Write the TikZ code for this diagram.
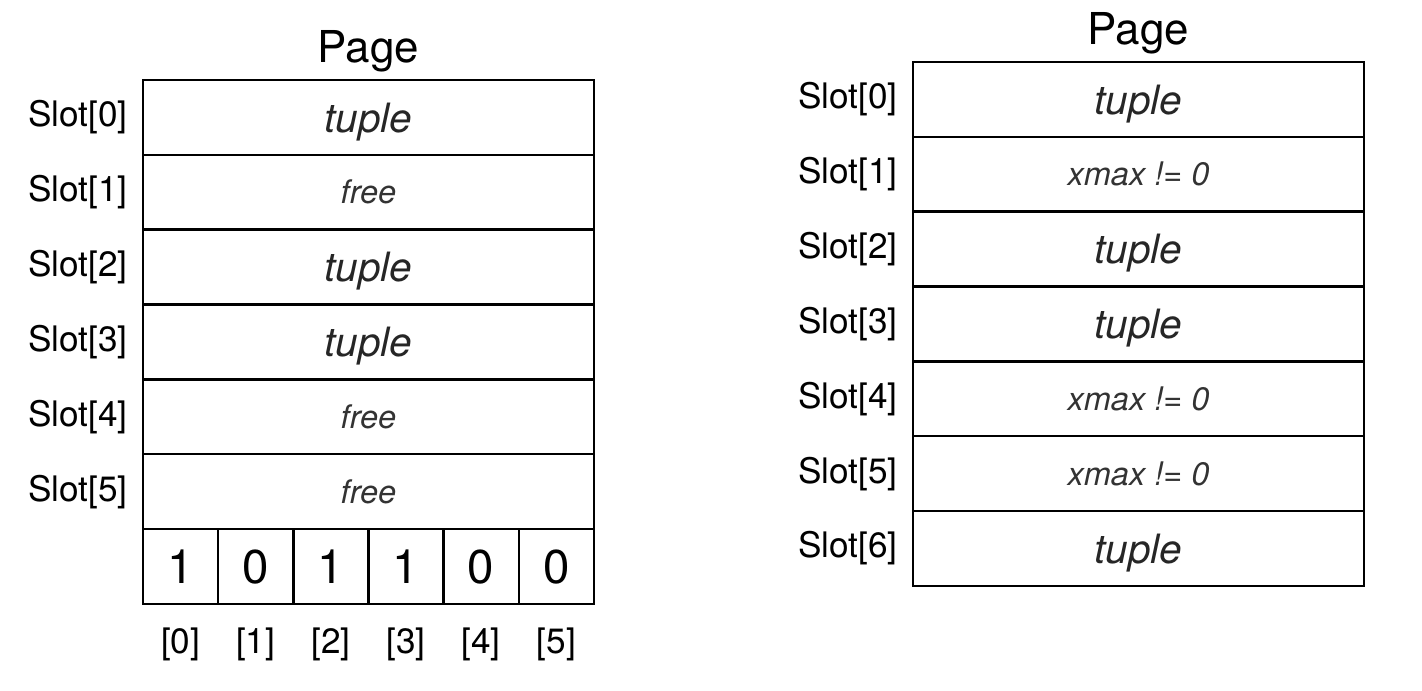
\documentclass[tikz,border=0pt]{standalone}
\usepackage{fontspec}
\setmainfont{TeX Gyre Heros}
\usetikzlibrary{positioning}

\tikzset{
  slot/.style={draw, line width=1.4pt, minimum width=9.02cm, minimum height=1.497cm, inner sep=0pt, outer sep=0pt},
  bit/.style={draw, line width=1.4pt, minimum width=1.503cm, minimum height=1.5cm, inner sep=0pt, outer sep=0pt, font=\fontsize{27}{30}\selectfont},
  lbl/.style={inner sep=0pt, font=\fontsize{20}{24}\selectfont},
  big/.style={font=\fontsize{23}{26}\selectfont\itshape, text=black!85, text depth=0pt},
  small/.style={font=\fontsize{18.5}{22}\selectfont\itshape, text=black!80},
  title/.style={inner sep=0pt, font=\fontsize{25}{28}\selectfont}
}

\begin{document}
\begin{tikzpicture}
      \useasboundingbox (0,0) rectangle (28.44,-13.8);

      % left page with bitmap
      \node [slot, big, anchor=north west] (l0) at (2.86,-1.6) {tuple};
      \node [slot, small, below=0pt of l0] (l1) {free};
      \node [slot, big, below=0pt of l1] (l2) {tuple};
      \node [slot, big, below=0pt of l2] (l3) {tuple};
      \node [slot, small, below=0pt of l3] (l4) {free};
      \node [slot, small, below=0pt of l4] (l5) {free};
      \node [title, above=0.16cm of l0] (lpage) {Page};

      \node [lbl, left=0.3cm of l0] (ls0) {Slot[0]};
      \node [lbl, left=0.3cm of l1] (ls1) {Slot[1]};
      \node [lbl, left=0.3cm of l2] (ls2) {Slot[2]};
      \node [lbl, left=0.3cm of l3] (ls3) {Slot[3]};
      \node [lbl, left=0.3cm of l4] (ls4) {Slot[4]};
      \node [lbl, left=0.3cm of l5] (ls5) {Slot[5]};

      \node [bit, anchor=north west] (b0) at (l5.south west) {1};
      \node [bit, right=0pt of b0] (b1) {0};
      \node [bit, right=0pt of b1] (b2) {1};
      \node [bit, right=0pt of b2] (b3) {1};
      \node [bit, right=0pt of b3] (b4) {0};
      \node [bit, right=0pt of b4] (b5) {0};

      \node [lbl, below=0.46cm of b0] (i0) {[0]};
      \node [lbl, below=0.46cm of b1] (i1) {[1]};
      \node [lbl, below=0.46cm of b2] (i2) {[2]};
      \node [lbl, below=0.46cm of b3] (i3) {[3]};
      \node [lbl, below=0.46cm of b4] (i4) {[4]};
      \node [lbl, below=0.46cm of b5] (i5) {[5]};

      % right page with xmax
      \node [slot, big, anchor=north west] (r0) at (18.26,-1.24) {tuple};
      \node [slot, small, below=0pt of r0] (r1) {xmax != 0};
      \node [slot, big, below=0pt of r1] (r2) {tuple};
      \node [slot, big, below=0pt of r2] (r3) {tuple};
      \node [slot, small, below=0pt of r3] (r4) {xmax != 0};
      \node [slot, small, below=0pt of r4] (r5) {xmax != 0};
      \node [slot, big, below=0pt of r5] (r6) {tuple};
      \node [title, above=0.16cm of r0] (rpage) {Page};

      \node [lbl, left=0.3cm of r0] (rs0) {Slot[0]};
      \node [lbl, left=0.3cm of r1] (rs1) {Slot[1]};
      \node [lbl, left=0.3cm of r2] (rs2) {Slot[2]};
      \node [lbl, left=0.3cm of r3] (rs3) {Slot[3]};
      \node [lbl, left=0.3cm of r4] (rs4) {Slot[4]};
      \node [lbl, left=0.3cm of r5] (rs5) {Slot[5]};
      \node [lbl, left=0.3cm of r6] (rs6) {Slot[6]};
    \end{tikzpicture}
\end{document}
